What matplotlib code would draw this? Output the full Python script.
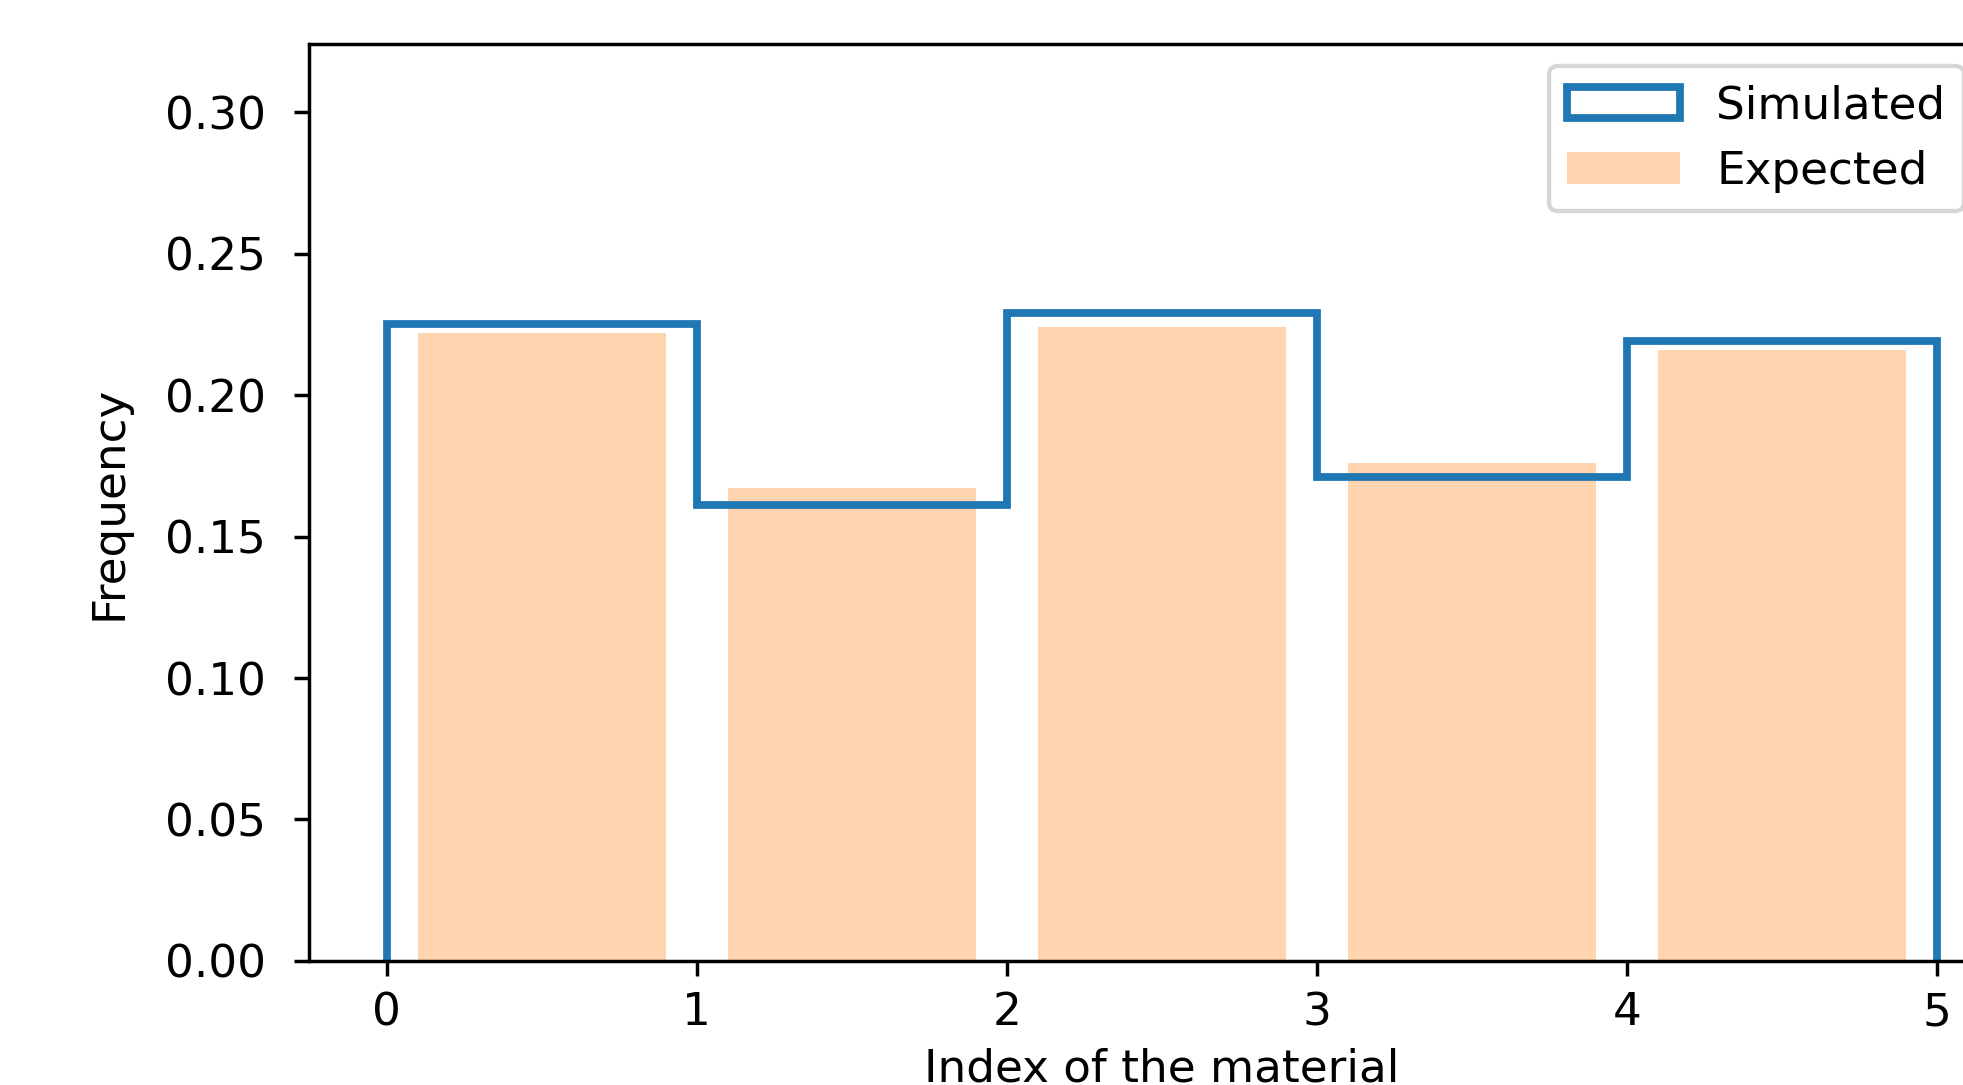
import matplotlib
matplotlib.use("Agg")
import matplotlib.pyplot as plt
import numpy as np

# Frequency of each material index (bins 0-1, 1-2, ... 4-5)
bin_edges = [0, 1, 2, 3, 4, 5]
simulated = [0.225, 0.161, 0.229, 0.171, 0.219]
expected = [0.222, 0.167, 0.224, 0.176, 0.216]

plt.rcParams["font.size"] = 10.5

fig = plt.figure(figsize=(1963 / 310, 1085 / 310), dpi=310)
ax = fig.add_axes([0.1574, 0.1143, 0.869, 0.845])

centres = (np.array(bin_edges[:-1]) + np.array(bin_edges[1:])) / 2
ax.hist(centres, bins=bin_edges, weights=simulated, histtype="step",
        color="tab:blue", linewidth=1.8, label="Simulated")
ax.bar(centres, expected, width=0.8, color="tab:orange", alpha=0.33, label="Expected")

ax.set_xlim(-0.25, 5.25)
ax.set_ylim(0, 0.324)
ax.tick_params(axis="y", pad=6.5)
ax.set_xlabel("Index of the material", labelpad=3)
ax.set_ylabel("Frequency", labelpad=8)
ax.legend(loc="upper left", bbox_to_anchor=(0.727, 0.976), borderaxespad=0,
          handlelength=2.5)

fig.savefig("out.png", dpi=310)
